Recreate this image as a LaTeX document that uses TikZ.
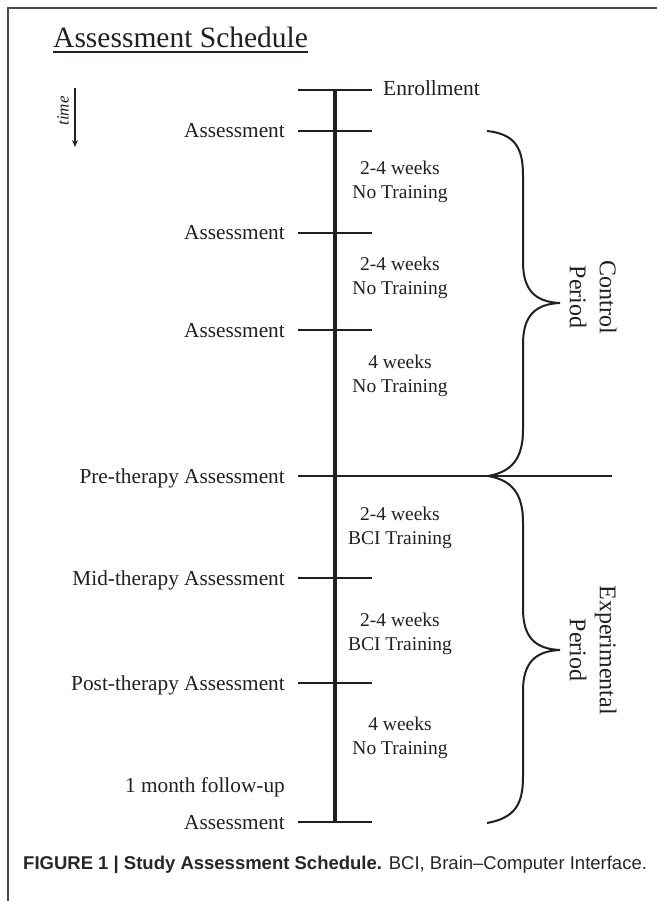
\documentclass[tikz,border=0pt]{standalone}
\usepackage{fontspec}
\setmainfont{Liberation Serif}
\newfontfamily\capfont{Liberation Sans}
\usetikzlibrary{arrows.meta}
\definecolor{ink}{HTML}{231F20}
\begin{document}
\begin{tikzpicture}[x=1pt,y=-1pt,
  lbl/.style={text=ink, font=\fontsize{21.3}{25}\selectfont, inner sep=0pt, anchor=base east},
  midlbl/.style={text=ink, font=\fontsize{19.5}{23.5}\selectfont, align=center, inner sep=0pt},
  tickline/.style={draw=ink, line width=2.6pt},
  bracepath/.style={draw=ink, line width=2pt},
  per/.style={text=ink, font=\fontsize{24}{30}\selectfont, align=center, rotate=-90, inner sep=0pt}]
\useasboundingbox (0,0) rectangle (657,901);
% frame
\coordinate (fb) at (8,901); \coordinate (ftl) at (8,8); \coordinate (ftr) at (657,8);
\draw[black!70, line width=1.3pt] (fb) -- (ftl) -- (ftr);
% title
\node[anchor=base west, inner sep=0pt, text=ink, font=\fontsize{29.5}{34}\selectfont] (title) at (53,48) {Assessment Schedule};
\draw[ink, line width=1.6pt] ([yshift=-4pt]title.base west) -- ([yshift=-4pt]title.base east);
% time arrow
\coordinate (t1) at (75,88); \coordinate (t2) at (75,147);
\draw[ink, line width=1.2pt, -{Stealth[length=7pt,width=6pt]}] (t1) -- (t2);
\node[rotate=90, inner sep=0pt, text=ink, font=\itshape\fontsize{17}{20}\selectfont] (time) at (63,111) {time};
% ticks
\foreach \n/\y in {enr/90,a1/131,a2/233,a3/330,pre/476,mid/578,post/683,fu/822}{
  \coordinate (\n L) at (298,\y);
  \coordinate (\n R) at (372,\y);
  \coordinate (\n C) at (335,\y);
}
\coordinate (preE) at (612,476);
\draw[ink, line width=4.2pt] (enrC) -- (fuC);
\foreach \n in {enr,a1,a2,a3,mid,post,fu}{\draw[tickline] (\n L) -- (\n R);}
\draw[tickline] (preL) -- (preE);
% left labels
\node[text=ink, font=\fontsize{21.5}{25}\selectfont, inner sep=0pt, anchor=base west] (enr) at (383,96) {Enrollment};
\node[lbl] (la1) at (285,138) {Assessment};
\node[lbl] (la2) at (285,240) {Assessment};
\node[lbl] (la3) at (285,337) {Assessment};
\node[lbl] (lpre) at (285,483) {Pre-therapy Assessment};
\node[lbl] (lmid) at (285,585) {Mid-therapy Assessment};
\node[lbl] (lpost) at (285,690) {Post-therapy Assessment};
\node[lbl] (lfu1) at (285,792) {1 month follow-up};
\node[lbl] (lfu2) at (285,829) {Assessment};
% interval labels
\node[midlbl] (i1) at (400,182) {2-4 weeks\\No Training};
\node[midlbl] (i2) at (400,278) {2-4 weeks\\No Training};
\node[midlbl] (i3) at (400,376) {4 weeks\\No Training};
\node[midlbl] (i4) at (400,528) {2-4 weeks\\BCI Training};
\node[midlbl] (i5) at (400,634) {2-4 weeks\\BCI Training};
\node[midlbl] (i6) at (400,738) {4 weeks\\No Training};
% braces
\coordinate (cb1) at (487,131); \coordinate (cbt) at (560,303); \coordinate (cb2) at (488,476);
\draw[bracepath] (cb1) .. controls (515,134) and (523,148) .. (523,175) -- (523,262)
  .. controls (523,290) and (535,302) .. (cbt)
  .. controls (535,304) and (523,316) .. (523,344) -- (523,430)
  .. controls (523,458) and (512,472) .. (cb2);
\coordinate (eb1) at (488,476); \coordinate (ebt) at (560,650); \coordinate (eb2) at (487,823);
\draw[bracepath] (eb1) .. controls (512,480) and (523,494) .. (523,522) -- (523,609)
  .. controls (523,637) and (535,649) .. (ebt)
  .. controls (535,651) and (523,663) .. (523,691) -- (523,777)
  .. controls (523,804) and (515,818) .. (eb2);
\node[per] (ctrl) at (593,297) {Control\\Period};
\node[per] (expt) at (593,650) {Experimental\\Period};
% caption
\node[anchor=base west, inner sep=0pt, text=black!85, font=\capfont\fontsize{18.5}{22}\selectfont] (cap) at (23,869) {\textbf{FIGURE 1 | Study Assessment Schedule.} BCI, Brain–Computer Interface.};
\end{tikzpicture}
\end{document}
